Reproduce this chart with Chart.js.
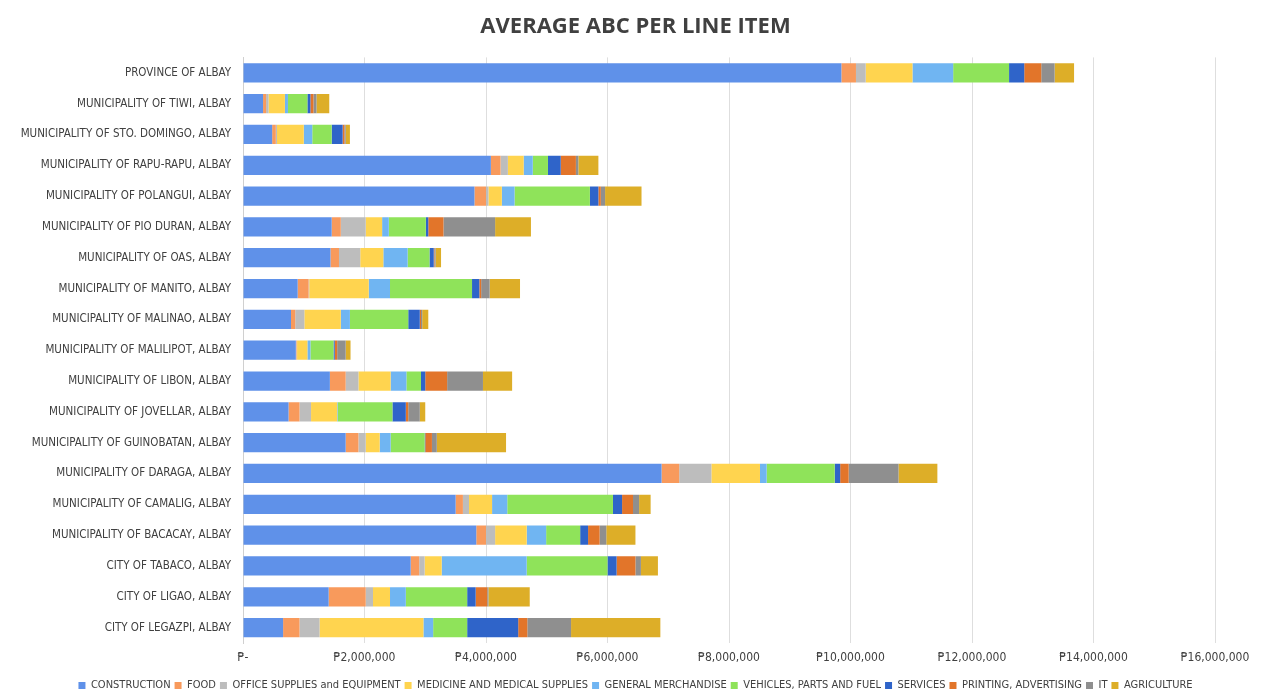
<!DOCTYPE html>
<html>
<head>
<meta charset="utf-8">
<script src="https://cdn.jsdelivr.net/npm/chart.js@4.4.1/dist/chart.umd.min.js"></script>
<style>
  html, body { margin: 0; padding: 0; background: #fff; }
  #wrap { width: 1271px; height: 694px; }
</style>
</head>
<body>
<div id="wrap"><canvas id="chart"></canvas></div>
<script>
const places = [
  'PROVINCE OF ALBAY',
  'MUNICIPALITY OF TIWI, ALBAY',
  'MUNICIPALITY OF STO. DOMINGO, ALBAY',
  'MUNICIPALITY OF RAPU-RAPU, ALBAY',
  'MUNICIPALITY OF POLANGUI, ALBAY',
  'MUNICIPALITY OF PIO DURAN, ALBAY',
  'MUNICIPALITY OF OAS, ALBAY',
  'MUNICIPALITY OF MANITO, ALBAY',
  'MUNICIPALITY OF MALINAO, ALBAY',
  'MUNICIPALITY OF MALILIPOT, ALBAY',
  'MUNICIPALITY OF LIBON, ALBAY',
  'MUNICIPALITY OF JOVELLAR, ALBAY',
  'MUNICIPALITY OF GUINOBATAN, ALBAY',
  'MUNICIPALITY OF DARAGA, ALBAY',
  'MUNICIPALITY OF CAMALIG, ALBAY',
  'MUNICIPALITY OF BACACAY, ALBAY',
  'CITY OF TABACO, ALBAY',
  'CITY OF LIGAO, ALBAY',
  'CITY OF LEGAZPI, ALBAY'
];

// values in millions of pesos
const construction = [9.85, 0.33, 0.48, 4.08, 3.81, 1.46, 1.44, 0.90, 0.79, 0.87, 1.43, 0.75, 1.69, 6.89, 3.50, 3.84, 2.76, 1.41, 0.66];
const food         = [0.24, 0.05, 0.06, 0.16, 0.19, 0.15, 0.14, 0.18, 0.07, 0.01, 0.26, 0.18, 0.21, 0.29, 0.12, 0.16, 0.14, 0.61, 0.27];
const office       = [0.16, 0.04, 0.02, 0.12, 0.04, 0.41, 0.35, 0.01, 0.15, 0.01, 0.21, 0.19, 0.12, 0.53, 0.10, 0.15, 0.09, 0.12, 0.33];
const medicine     = [0.77, 0.27, 0.44, 0.26, 0.22, 0.27, 0.38, 0.98, 0.60, 0.17, 0.53, 0.43, 0.23, 0.80, 0.38, 0.52, 0.28, 0.28, 1.71];
const merchandise  = [0.67, 0.05, 0.14, 0.15, 0.21, 0.11, 0.40, 0.35, 0.15, 0.05, 0.26, 0.01, 0.18, 0.11, 0.25, 0.32, 1.40, 0.26, 0.16];
const vehicles     = [0.92, 0.32, 0.32, 0.25, 1.24, 0.61, 0.36, 1.35, 0.96, 0.38, 0.24, 0.90, 0.56, 1.12, 1.74, 0.56, 1.33, 1.01, 0.56];
const services     = [0.25, 0.05, 0.18, 0.21, 0.14, 0.04, 0.07, 0.12, 0.19, 0.02, 0.07, 0.22, 0.01, 0.09, 0.15, 0.13, 0.15, 0.14, 0.84];
const printing     = [0.28, 0.05, 0.03, 0.25, 0.04, 0.25, 0.01, 0.03, 0.02, 0.04, 0.36, 0.04, 0.11, 0.14, 0.18, 0.19, 0.31, 0.19, 0.15];
const it           = [0.22, 0.05, 0.02, 0.04, 0.07, 0.85, 0.02, 0.14, 0.02, 0.14, 0.59, 0.19, 0.08, 0.82, 0.10, 0.11, 0.09, 0.02, 0.72];
const agriculture  = [0.32, 0.21, 0.07, 0.33, 0.60, 0.59, 0.09, 0.50, 0.10, 0.08, 0.48, 0.09, 1.14, 0.64, 0.19, 0.48, 0.28, 0.68, 1.47];

const seriesNames = ['CONSTRUCTION', 'FOOD', 'OFFICE SUPPLIES and EQUIPMENT', 'MEDICINE AND MEDICAL SUPPLIES',
  'GENERAL MERCHANDISE', 'VEHICLES, PARTS AND FUEL', 'SERVICES', 'PRINTING, ADVERTISING', 'IT', 'AGRICULTURE'];
const seriesData = [construction, food, office, medicine, merchandise, vehicles, services, printing, it, agriculture];
const colors = ['#5f91e9', '#f89a5c', '#bdbdbd', '#ffd44f', '#70b5f2', '#8fe35a', '#2f64c9', '#e2752a', '#8f8f8f', '#ddae28'];

const xTicks = [0, 2000000, 4000000, 6000000, 8000000, 10000000, 12000000, 14000000, 16000000];

const narrow = "'Liberation Sans Narrow', 'DejaVu Sans Condensed', 'Liberation Sans', sans-serif";

function peso(v) {
  if (v === 0) return '₱-';
  return '₱' + v.toLocaleString('en-US');
}

const datasets = seriesNames.map((name, i) => ({
  label: name,
  data: seriesData[i].map(v => Math.round(v * 1000000)),
  backgroundColor: colors[i],
  borderWidth: 0,
  barPercentage: 0.65,
  categoryPercentage: 0.96
}));

new Chart(document.getElementById('chart'), {
  type: 'bar',
  data: { labels: places, datasets: datasets },
  options: {
    indexAxis: 'y',
    responsive: true,
    maintainAspectRatio: false,
    animation: false,
    layout: { padding: { left: 0, right: 0, top: 4, bottom: -7 } },
    plugins: {
      title: {
        display: true,
        text: 'AVERAGE ABC PER LINE ITEM',
        color: '#404040',
        font: { family: "'Open Sans', 'Liberation Sans', sans-serif", size: 22, weight: 'bold' },
        padding: { top: 10, bottom: 17 }
      },
      legend: {
        position: 'bottom',
        labels: {
          color: '#404040',
          font: { family: narrow, size: 11 },
          boxWidth: 7,
          boxHeight: 7,
          padding: 4
        }
      },
      tooltip: { enabled: false }
    },
    scales: {
      x: {
        stacked: true,
        min: 0,
        max: 16000000,
        afterBuildTicks: (scale) => { scale.ticks = xTicks.map(v => ({ value: v })); },
        afterFit: (scale) => { scale.height = 33; scale.paddingRight = 56; },
        ticks: {
          color: '#404040',
          font: { family: narrow, size: 12 },
          padding: 8,
          maxRotation: 0,
          callback: (v) => peso(v)
        },
        grid: { color: '#dedede', drawTicks: false },
        border: { display: false }
      },
      y: {
        stacked: true,
        afterFit: (scale) => { scale.width = 243; },
        ticks: {
          color: '#404040',
          font: { family: narrow, size: 11.5 },
          padding: 12
        },
        grid: { display: false, drawTicks: false },
        border: { display: true, color: '#d0d0d0' }
      }
    }
  }
});
</script>
</body>
</html>
